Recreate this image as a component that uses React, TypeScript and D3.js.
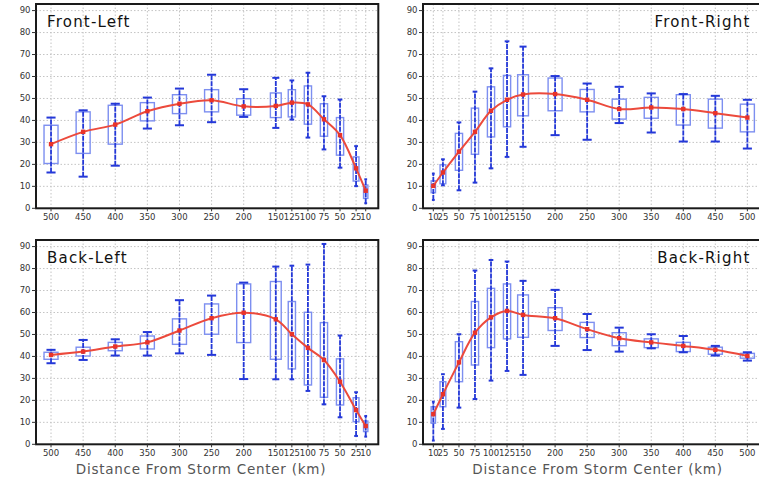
import React from "react";
import * as d3 from "d3";

const distances = [10, 25, 50, 75, 100, 125, 150, 200, 250, 300, 350, 400, 450, 500];
const yTicks = [0, 10, 20, 30, 40, 50, 60, 70, 80, 90];
const panelTitles = ["Front-Left", "Front-Right", "Back-Left", "Back-Right"];
const axisTitle = "Distance From Storm Center (km)";

// Front-Left
const flWhiskerHigh = [13.2, 28.3, 49.5, 51, 61.7, 58.2, 59.4, 54.2, 60.8, 54.5, 50.4, 47.6, 44.6, 41.3];
const flBoxHigh = [10.6, 23.4, 41.3, 47.6, 55.7, 54, 52.5, 49.9, 54, 51.7, 48.1, 46.9, 43.9, 37.8];
const flMean = [8.0, 18.2, 33.3, 40.5, 47.3, 48.1, 46.6, 46.4, 49.2, 47.6, 44.2, 38.1, 34.8, 29.2];
const flBoxLow = [4.5, 12.4, 24.2, 32.8, 38.3, 41.6, 41.3, 42.4, 43.9, 43.1, 39.8, 29.2, 25, 20.4];
const flWhiskerLow = [2.3, 10.1, 18.5, 26.8, 32.2, 40.4, 36.6, 41.6, 39.2, 37.8, 36.3, 19.4, 14.4, 16.3];

// Front-Right
const frWhiskerHigh = [15.8, 22.3, 39.1, 53.1, 63.7, 76, 73.6, 60.2, 56.8, 55.3, 52.3, 52, 51.2, 49.4];
const frBoxHigh = [12.5, 19.8, 34.1, 45.6, 55.3, 60.5, 60.8, 59.3, 54.1, 49.7, 50.5, 51.7, 49.7, 47.4];
const frMean = [10.2, 16.3, 25.8, 34.8, 44.4, 49.4, 51.8, 52, 49.4, 45.2, 45.9, 45.2, 43.3, 41.3];
const frBoxLow = [7.1, 11.2, 17.3, 24.6, 32.5, 37.1, 42.1, 44.4, 43.9, 40.6, 41, 37.9, 36.5, 34.8];
const frWhiskerLow = [3.8, 10.5, 8.2, 11.7, 18.2, 23.4, 28, 33.3, 31.2, 38.8, 34.5, 30.4, 30.4, 27.2];

// Back-Left
const blWhiskerHigh = [12.9, 23.7, 49.5, 91.2, 81.8, 81.3, 80.9, 73.6, 67.7, 65.6, 51.1, 47.8, 47.5, 43];
const blBoxHigh = [10.6, 21.2, 38.9, 55.4, 60.1, 65, 74.1, 73, 63.9, 57.1, 49.3, 46.4, 44.2, 41.9];
const blMean = [8.3, 15.6, 28.5, 38.4, 43.9, 50.1, 56.9, 59.9, 57.4, 51.8, 46.4, 44.5, 42.2, 40.7];
const blBoxLow = [5.8, 10.3, 17.9, 21.4, 27, 34.3, 38.7, 46.3, 50.1, 45.5, 43.4, 42.6, 40.2, 38.7];
const blWhiskerLow = [3.5, 3.8, 12.3, 18.2, 24.3, 29.6, 29.6, 29.7, 40.7, 41.4, 40.4, 40.4, 38.4, 36.9];

// Back-Right
const brWhiskerHigh = [19.4, 31.9, 50.1, 79.1, 83.9, 83.2, 74.4, 70.3, 59.3, 53.1, 50.1, 49.3, 44.8, 41.9];
const brBoxHigh = [17.1, 28.5, 46.7, 65, 71, 73, 68, 62.2, 55.5, 50.8, 48, 46.4, 44.2, 41.4];
const brMean = [13.7, 22.8, 37.3, 50.8, 57.8, 60.7, 58.9, 57.4, 52.4, 48.3, 46.4, 44.8, 43, 40.2];
const brBoxLow = [9.6, 17.1, 28.5, 36.1, 44, 48, 48.7, 51.8, 48.6, 44.9, 44, 42.2, 41, 39.2];
const brWhiskerLow = [1.7, 7, 16.7, 20.6, 29, 33.4, 31.6, 44.8, 42.9, 42.2, 43.7, 41.9, 40.4, 38.1];

const FONT = "'DejaVu Sans', Verdana, sans-serif";

type PanelProps = {
  title: string;
  left: number;
  right: number;
  top: number;
  bottom: number;
  xDomain: [number, number];
  titleRight: boolean;
  whiskerHigh: number[];
  boxHigh: number[];
  mean: number[];
  boxLow: number[];
  whiskerLow: number[];
  axisTitleX: number | null;
};

function Panel(p: PanelProps) {
  const x = d3.scaleLinear().domain(p.xDomain).range([p.left, p.right]);
  const y = d3.scaleLinear().domain([0, 93]).range([p.bottom, p.top]);
  const px = distances.map((d) => x(d));
  const widths = distances.map((_, i) => {
    const gaps: number[] = [];
    if (i > 0) gaps.push(Math.abs(px[i] - px[i - 1]));
    if (i < distances.length - 1) gaps.push(Math.abs(px[i + 1] - px[i]));
    const avg = d3.mean(gaps) as number;
    return Math.min(14, avg * 0.45);
  });
  const line = d3
    .line<number>()
    .x((_, i) => px[i])
    .y((v) => y(v))
    .curve(d3.curveCatmullRom.alpha(0.5));
  const gridColor = "#c4c4c4";
  return (
    <g>
      <rect x={p.left} y={p.top} width={p.right - p.left} height={p.bottom - p.top} fill="#fff" />
      {yTicks.filter((t) => t > 0).map((t) => (
        <line key={"hg" + t} x1={p.left} x2={p.right} y1={y(t)} y2={y(t)} stroke={gridColor} strokeWidth={1} strokeDasharray="1.5,2" />
      ))}
      {distances.map((d) => (
        <line key={"vg" + d} x1={x(d)} x2={x(d)} y1={p.top} y2={p.bottom} stroke={gridColor} strokeWidth={1} strokeDasharray="1.5,2" />
      ))}
      {distances.map((d, i) => {
        const w = widths[i];
        const cw = w * 0.65;
        const cx = px[i];
        return (
          <g key={"b" + d}>
            <rect x={cx - w / 2} y={y(p.boxHigh[i])} width={w} height={y(p.boxLow[i]) - y(p.boxHigh[i])} fill="none" stroke="#7d8ff0" strokeWidth={1.4} />
            <line x1={cx} x2={cx} y1={y(p.whiskerLow[i])} y2={y(p.whiskerHigh[i])} stroke="#2438d8" strokeWidth={1.8} strokeDasharray="5,1" />
            <line x1={cx - cw / 2} x2={cx + cw / 2} y1={y(p.whiskerHigh[i])} y2={y(p.whiskerHigh[i])} stroke="#2438d8" strokeWidth={2} />
            <line x1={cx - cw / 2} x2={cx + cw / 2} y1={y(p.whiskerLow[i])} y2={y(p.whiskerLow[i])} stroke="#2438d8" strokeWidth={2} />
          </g>
        );
      })}
      <path d={line(p.mean) || ""} fill="none" stroke="#ec4a3c" strokeWidth={2} />
      {p.mean.map((v, i) => (
        <rect key={"m" + i} x={px[i] - 2.2} y={y(v) - 2.2} width={4.4} height={4.4} fill="#e8332a" />
      ))}
      <rect x={p.left} y={p.top} width={p.right - p.left} height={p.bottom - p.top} fill="none" stroke="#1a1a1a" strokeWidth={2} />
      {yTicks.map((t) => (
        <g key={"yt" + t}>
          <line x1={p.left - 4} x2={p.left} y1={y(t)} y2={y(t)} stroke="#333" strokeWidth={1} />
          <text x={p.left - 5.5} y={y(t)} dy="0.33em" textAnchor="end" fontFamily={FONT} fontSize={8.5} fill="#333">
            {t}
          </text>
        </g>
      ))}
      {distances.map((d) => (
        <g key={"xt" + d}>
          <line x1={x(d)} x2={x(d)} y1={p.bottom} y2={p.bottom + 3} stroke="#333" strokeWidth={1} />
          <text x={x(d)} y={p.bottom + 12} textAnchor="middle" fontFamily={FONT} fontSize={8.5} fill="#333">
            {d}
          </text>
        </g>
      ))}
      <text
        x={p.titleRight ? p.right - 14.5 : p.left + 11}
        y={p.top + 23}
        textAnchor={p.titleRight ? "end" : "start"}
        fontFamily={FONT}
        fontSize={15}
        fill="#111"
        letterSpacing={1.2}
      >
        {p.title}
      </text>
      {p.axisTitleX !== null && (
        <text
          x={p.axisTitleX}
          y={474}
          textAnchor="middle"
          fontFamily={FONT}
          fontSize={13.5}
          fill="#555"
          letterSpacing={0.75}
        >
          {axisTitle}
        </text>
      )}
    </g>
  );
}

export default function App() {
  const leftX: [number, number] = [523.4, -9.6];
  const rightX: [number, number] = [-6.1, 527.5];
  return (
    <svg width={759} height={478} style={{ position: "absolute", left: 0, top: 0, background: "#fff" }}>
      <rect x={0} y={0} width={759} height={478} fill="#fff" />
      <Panel title={panelTitles[0]} left={36} right={378.3} top={4} bottom={208.3} xDomain={leftX} titleRight={false}
        whiskerHigh={flWhiskerHigh} boxHigh={flBoxHigh} mean={flMean} boxLow={flBoxLow} whiskerLow={flWhiskerLow} axisTitleX={null} />
      <Panel title={panelTitles[1]} left={423} right={765} top={4} bottom={208.3} xDomain={rightX} titleRight={true}
        whiskerHigh={frWhiskerHigh} boxHigh={frBoxHigh} mean={frMean} boxLow={frBoxLow} whiskerLow={frWhiskerLow} axisTitleX={null} />
      <Panel title={panelTitles[2]} left={36} right={378.3} top={240} bottom={444.3} xDomain={leftX} titleRight={false}
        whiskerHigh={blWhiskerHigh} boxHigh={blBoxHigh} mean={blMean} boxLow={blBoxLow} whiskerLow={blWhiskerLow} axisTitleX={201} />
      <Panel title={panelTitles[3]} left={423} right={765} top={240} bottom={444.3} xDomain={rightX} titleRight={true}
        whiskerHigh={brWhiskerHigh} boxHigh={brBoxHigh} mean={brMean} boxLow={brBoxLow} whiskerLow={brWhiskerLow} axisTitleX={597.5} />
    </svg>
  );
}
